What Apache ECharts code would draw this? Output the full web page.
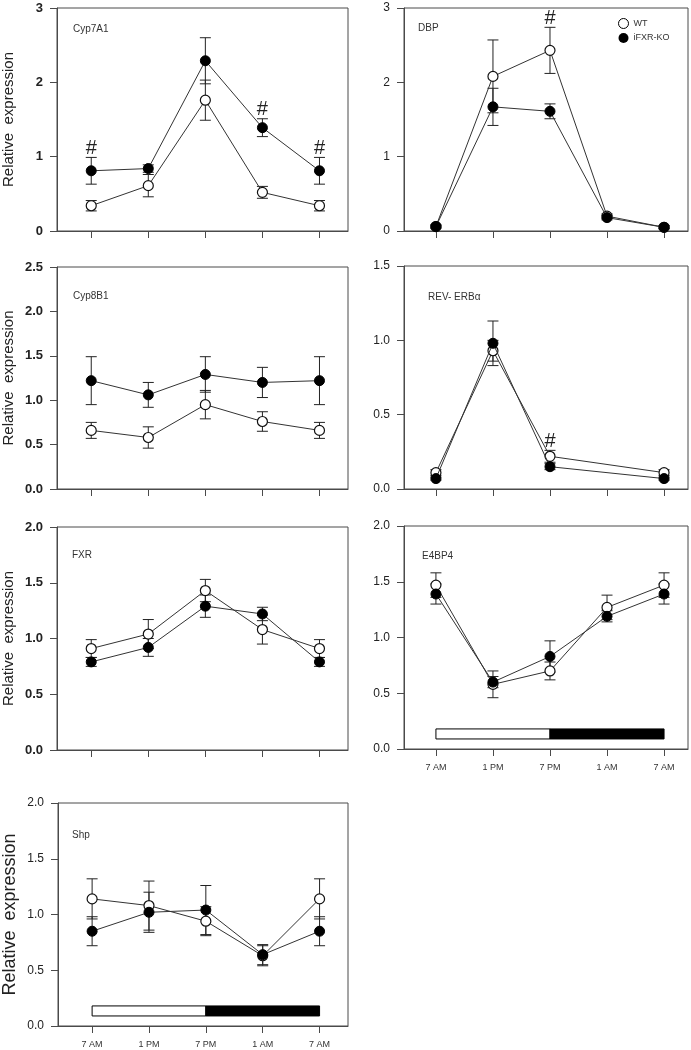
<!DOCTYPE html>
<html>
<head>
<meta charset="utf-8">
<style>
html,body{margin:0;padding:0;background:#fff;}
#chart{width:691px;height:1050px;}
</style>
<script src="https://cdn.jsdelivr.net/npm/echarts@6/dist/echarts.min.js"></script>
</head>
<body>
<div id="chart"></div>
<script>
// ---- tick labels / categories ----
const timeLabels = ['7 AM', '1 PM', '7 PM', '1 AM', '7 AM'];
const timeIdx = [0, 1, 2, 3, 4];

// ---- Cyp7A1 ----
const cyp7a1WT    = [0.34, 0.61, 1.76, 0.52, 0.34];
const cyp7a1WTErr = [0.07, 0.15, 0.27, 0.08, 0.07];
const cyp7a1KO    = [0.81, 0.84, 2.29, 1.39, 0.81];
const cyp7a1KOErr = [0.18, 0.05, 0.31, 0.12, 0.18];
const cyp7a1Sig   = [0, 3, 4];

// ---- DBP ----
const dbpWT    = [0.06, 2.08, 2.43, 0.20, 0.05];
const dbpWTErr = [0.02, 0.49, 0.31, 0.03, 0.02];
const dbpKO    = [0.06, 1.67, 1.61, 0.18, 0.05];
const dbpKOErr = [0.02, 0.25, 0.10, 0.03, 0.02];
const dbpSig   = [2];

// ---- Cyp8B1 ----
const cyp8b1WT    = [0.66, 0.58, 0.95, 0.76, 0.66];
const cyp8b1WTErr = [0.09, 0.12, 0.16, 0.11, 0.09];
const cyp8b1KO    = [1.22, 1.06, 1.29, 1.20, 1.22];
const cyp8b1KOErr = [0.27, 0.14, 0.20, 0.17, 0.27];
const cyp8b1Sig   = [];

// ---- REV-ERBα (no 1 AM sample) ----
const revWT    = [0.11, 0.93, 0.22, null, 0.11];
const revWTErr = [0.02, 0.07, 0.04, null, 0.02];
const revKO    = [0.07, 0.98, 0.15, null, 0.07];
const revKOErr = [0.01, 0.15, 0.02, null, 0.01];
const revSig   = [2];

// ---- FXR ----
const fxrWT    = [0.91, 1.04, 1.43, 1.08, 0.91];
const fxrWTErr = [0.08, 0.13, 0.10, 0.13, 0.08];
const fxrKO    = [0.79, 0.92, 1.29, 1.22, 0.79];
const fxrKOErr = [0.04, 0.08, 0.10, 0.06, 0.04];
const fxrSig   = [];

// ---- E4BP4 ----
const e4bp4WT    = [1.47, 0.58, 0.70, 1.27, 1.47];
const e4bp4WTErr = [0.11, 0.12, 0.08, 0.11, 0.11];
const e4bp4KO    = [1.39, 0.60, 0.83, 1.19, 1.39];
const e4bp4KOErr = [0.09, 0.05, 0.14, 0.05, 0.09];
const e4bp4Sig   = [];

// ---- Shp ----
const shpWT    = [1.14, 1.08, 0.94, 0.63, 1.14];
const shpWTErr = [0.18, 0.22, 0.13, 0.09, 0.18];
const shpKO    = [0.85, 1.02, 1.04, 0.64, 0.85];
const shpKOErr = [0.13, 0.18, 0.22, 0.09, 0.13];
const shpSig   = [];

// ---- light / dark phase bar: [start, end, isDark] ----
const lightDark = [[0, 2, 0], [2, 4, 1]];
const barRange = [0.09, 0.18];

// ---- panel layout ----
const panels = [
  {name:'Cyp7A1', wt:cyp7a1WT, wtE:cyp7a1WTErr, ko:cyp7a1KO, koE:cyp7a1KOErr, sig:cyp7a1Sig,
   grid:{left:57, top:8, width:291, height:223}, yMax:3, yInt:1, dec:0, col:0, tx:73, ty:24, bold:true, xl:false, bar:false, nameSize:15},
  {name:'DBP', wt:dbpWT, wtE:dbpWTErr, ko:dbpKO, koE:dbpKOErr, sig:dbpSig,
   grid:{left:404, top:8, width:284, height:223}, yMax:3, yInt:1, dec:0, col:1, tx:418, ty:23, bold:false, xl:false, bar:false},
  {name:'Cyp8B1', wt:cyp8b1WT, wtE:cyp8b1WTErr, ko:cyp8b1KO, koE:cyp8b1KOErr, sig:cyp8b1Sig,
   grid:{left:57, top:267, width:291, height:222}, yMax:2.5, yInt:0.5, dec:1, col:0, tx:73, ty:291, bold:true, xl:false, bar:false, nameSize:15},
  {name:'REV- ERBα', wt:revWT, wtE:revWTErr, ko:revKO, koE:revKOErr, sig:revSig,
   grid:{left:404, top:266, width:284, height:223}, yMax:1.5, yInt:0.5, dec:1, col:1, tx:428, ty:292, bold:false, xl:false, bar:false},
  {name:'FXR', wt:fxrWT, wtE:fxrWTErr, ko:fxrKO, koE:fxrKOErr, sig:fxrSig,
   grid:{left:57, top:527, width:291, height:223}, yMax:2, yInt:0.5, dec:1, col:0, tx:72, ty:550, bold:true, xl:false, bar:false, nameSize:15},
  {name:'E4BP4', wt:e4bp4WT, wtE:e4bp4WTErr, ko:e4bp4KO, koE:e4bp4KOErr, sig:e4bp4Sig,
   grid:{left:404, top:526, width:284, height:223}, yMax:2, yInt:0.5, dec:1, col:1, tx:422, ty:551, bold:false, xl:true, bar:true},
  {name:'Shp', wt:shpWT, wtE:shpWTErr, ko:shpKO, koE:shpKOErr, sig:shpSig,
   grid:{left:57, top:803, width:291, height:223}, yMax:2, yInt:0.5, dec:1, col:0, tx:72, ty:830, bold:false, xl:true, bar:true, nameSize:18}
];

const FONT = '"Liberation Sans", Arial, sans-serif';
const AX = '#4a4a4a';

function pts(vals) {
  const out = [];
  vals.forEach((v, i) => { if (v !== null) out.push([timeIdx[i], v]); });
  return out;
}
function errPts(vals, errs) {
  const out = [];
  vals.forEach((v, i) => { if (v !== null) out.push([timeIdx[i], v, errs[i]]); });
  return out;
}
function errRender(params, api) {
  const x = api.value(0), y = api.value(1), e = api.value(2);
  const t = api.coord([x, y + e]);
  const b = api.coord([x, y - e]);
  const w = 5.5;
  const st = {stroke:'#222', lineWidth:1};
  return {type:'group', children:[
    {type:'line', shape:{x1:t[0], y1:t[1], x2:b[0], y2:b[1]}, style:st},
    {type:'line', shape:{x1:t[0]-w, y1:t[1], x2:t[0]+w, y2:t[1]}, style:st},
    {type:'line', shape:{x1:b[0]-w, y1:b[1], x2:b[0]+w, y2:b[1]}, style:st}
  ]};
}
function sigRender(params, api) {
  const p = api.coord([api.value(0), api.value(1)]);
  return {type:'text', x:p[0], y:p[1] + 1,
    style:{text:'#', fill:'#222', font:'20px "Liberation Sans", Arial, sans-serif', textAlign:'center', textVerticalAlign:'bottom'}};
}
function barRender(params, api) {
  const a = api.coord([api.value(0), barRange[1]]);
  const b = api.coord([api.value(1), barRange[0]]);
  const dark = api.value(2) === 1;
  return {type:'rect', shape:{x:a[0], y:a[1], width:b[0]-a[0], height:b[1]-a[1]},
    style:{fill: dark ? '#000' : '#fff', stroke:'#000', lineWidth:1}};
}

const option = {
  animation:false,
  backgroundColor:'#fff',
  title:[], grid:[], xAxis:[], yAxis:[], series:[],
  legend:{
    orient:'vertical', left:618, top:18, padding:0, itemWidth:10, itemHeight:10, itemGap:4,
    icon:'circle',
    textStyle:{fontSize:9, color:'#333', fontFamily:FONT},
    data:[
      {name:'WT', itemStyle:{color:'#fff', borderColor:'#000', borderWidth:1}},
      {name:'iFXR-KO', itemStyle:{color:'#000'}}
    ]
  }
};

panels.forEach((p, gi) => {
  option.grid.push(Object.assign({show:true, borderColor:AX, borderWidth:1, containLabel:false}, p.grid));
  option.title.push({text:p.name, left:p.tx, top:p.ty, padding:0,
    textStyle:{fontSize:10, fontWeight:'normal', color:'#333', fontFamily:FONT}});
  const xMin = p.col === 0 ? -0.6 : -0.56;
  const xMax = p.col === 0 ? 4.5 : 4.42;
  option.xAxis.push({
    type:'value', gridIndex:gi, min:xMin, max:xMax,
    splitLine:{show:false},
    axisLine:{show:true, onZero:false, lineStyle:{color:AX, width:1}},
    axisTick:{show:true, inside:false, length:7, lineStyle:{color:AX}, customValues:timeIdx},
    axisLabel:{show:p.xl, customValues:timeIdx, margin:14, fontSize:9, color:'#333', fontFamily:FONT,
      formatter:(v) => timeLabels[Math.round(v)] || ''}
  });
  option.yAxis.push({
    type:'value', gridIndex:gi, min:0, max:p.yMax, interval:p.yInt,
    splitLine:{show:false},
    axisLine:{show:true, onZero:false, lineStyle:{color:AX, width:1}},
    axisTick:{show:true, inside:false, length:7, lineStyle:{color:AX}},
    axisLabel:{margin:14, fontSize: p.bold ? 13 : 12, fontWeight: p.bold ? 'bold' : 'normal', color:'#222', fontFamily:FONT,
      formatter:(v) => v.toFixed(p.dec)},
    name: p.col === 0 ? 'Relative  expression' : '',
    nameLocation:'middle', nameGap: p.nameSize === 18 ? 39 : 41,
    nameTextStyle:{fontSize:p.nameSize || 15, color:'#222', fontFamily:FONT}
  });
  if (p.bar) {
    option.series.push({type:'custom', xAxisIndex:gi, yAxisIndex:gi, renderItem:barRender,
      data:lightDark, z:1, silent:true});
  }
  option.series.push({type:'custom', name:'WT', xAxisIndex:gi, yAxisIndex:gi, renderItem:errRender,
    data:errPts(p.wt, p.wtE), z:2, silent:true});
  option.series.push({type:'custom', name:'iFXR-KO', xAxisIndex:gi, yAxisIndex:gi, renderItem:errRender,
    data:errPts(p.ko, p.koE), z:2, silent:true});
  option.series.push({type:'line', name:'WT', xAxisIndex:gi, yAxisIndex:gi, data:pts(p.wt),
    symbol:'circle', symbolSize:10, lineStyle:{color:'#333', width:1},
    itemStyle:{color:'#fff', borderColor:'#111', borderWidth:1.2}, z:3});
  option.series.push({type:'line', name:'iFXR-KO', xAxisIndex:gi, yAxisIndex:gi, data:pts(p.ko),
    symbol:'circle', symbolSize:10, lineStyle:{color:'#333', width:1},
    itemStyle:{color:'#000', borderColor:'#000', borderWidth:1}, z:4});
  if (p.sig.length) {
    const sd = p.sig.map(i => [timeIdx[i], Math.max(p.wt[i] + p.wtE[i], p.ko[i] + p.koE[i])]);
    option.series.push({type:'custom', xAxisIndex:gi, yAxisIndex:gi, renderItem:sigRender,
      data:sd, z:5, silent:true});
  }
});

const chart = echarts.init(document.getElementById('chart'), null, {renderer:'canvas'});
chart.setOption(option);
</script>
</body>
</html>
